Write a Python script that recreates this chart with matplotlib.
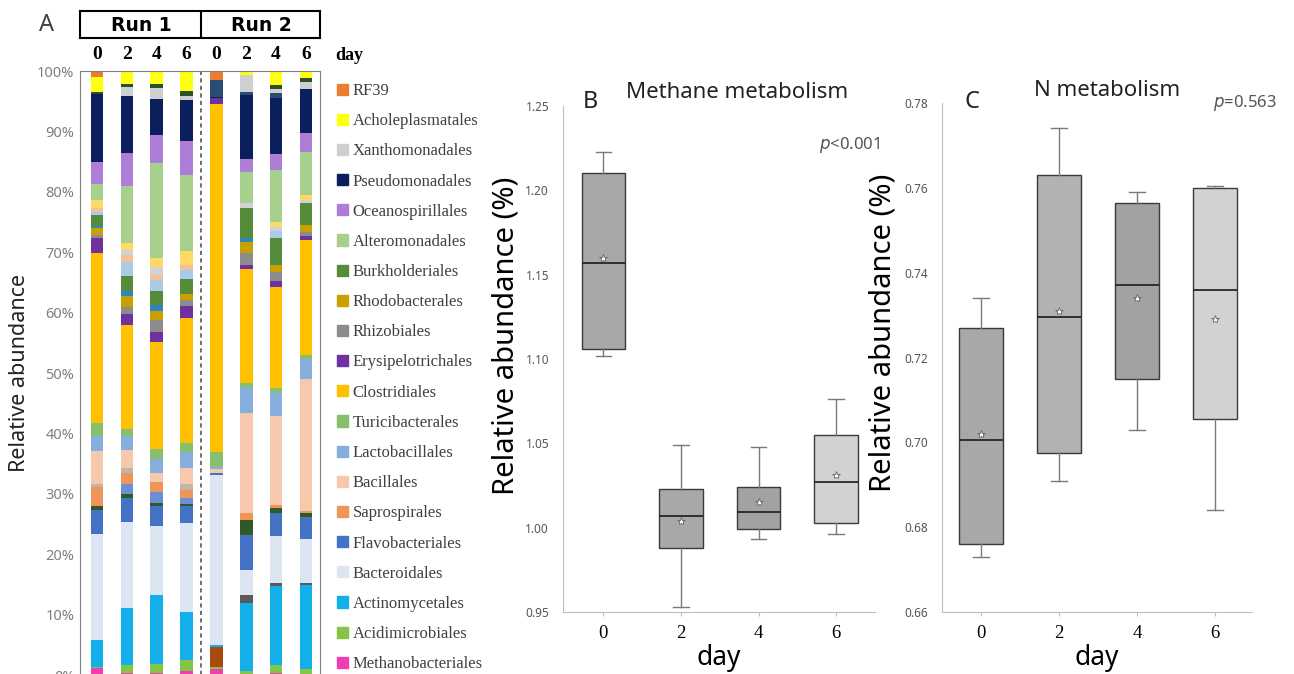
import matplotlib
matplotlib.use("Agg")
import matplotlib.pyplot as plt
from matplotlib.patches import Patch
import numpy as np

# ---- panel A: stacked composition (bottom -> top order) ----
taxa = [
    "Methanobacteriales", "Acidimicrobiales", "_brown", "Actinomycetales", "_dkgray",
    "Bacteroidales", "Flavobacteriales", "_dkgreen1", "_medblue", "Saprospirales",
    "_tan", "Bacillales", "Lactobacillales", "Turicibacterales", "Clostridiales",
    "Erysipelotrichales", "Rhizobiales", "Rhodobacterales", "_steelblue", "Burkholderiales",
    "_paleblue", "_palepeach", "_palegray", "_paleyellow", "Alteromonadales",
    "Oceanospirillales", "Pseudomonadales", "_darkteal", "Xanthomonadales", "_dkgreen2",
    "Acholeplasmatales", "RF39",
]
taxa_colors = [
    "#EE3FB0", "#84C446", "#A9490C", "#12AFEB", "#5A5A5A",
    "#DCE6F2", "#4472C4", "#2F5A27", "#6B8ED6", "#F0955A",
    "#C2B4A6", "#F6C9AC", "#86AEDF", "#86C06C", "#FFC000",
    "#7030A0", "#8C8C8C", "#C8A000", "#2E86C1", "#548C3A",
    "#A9CBE8", "#F4C09A", "#D2D2D2", "#FFD966", "#A8D08D",
    "#AE7DD8", "#0A1F5C", "#284D73", "#CFCFCF", "#2F4F2A",
    "#FFFF10", "#EC7C30",
]
run1_d0 = [1.1, 0.2, 0, 4.5, 0, 17.5, 4.0, 0.6, 0, 3.3, 0.5, 5.4, 2.5, 2.1, 28.2, 2.5, 0.4, 1.2, 0.3, 1.9,
           0.5, 0.6, 0, 1.3, 2.7, 3.6, 11.3, 0, 0, 0.3, 2.5, 1.0]
run1_d2 = [0.4, 1.2, 0, 9.5, 0, 14.2, 4.0, 0.6, 1.7, 1.8, 0.8, 3.1, 2.2, 1.2, 17.2, 1.9, 1.2, 1.7, 0.9, 2.5,
           2.3, 1.1, 0.9, 1.1, 9.5, 5.4, 9.5, 0, 1.5, 0.5, 2.1, 0]
run1_d4 = [0.3, 1.5, 0, 11.4, 0, 11.4, 3.3, 0.5, 1.9, 1.7, 0, 1.4, 2.3, 1.7, 17.8, 1.6, 1.9, 1.6, 1.0, 2.3,
           1.8, 0.8, 1.4, 1.4, 15.7, 4.7, 6.0, 0, 1.8, 0.7, 2.1, 0]
run1_d6 = [0.6, 1.9, 0, 8.0, 0, 14.6, 2.8, 0.4, 1.0, 1.4, 0.9, 2.6, 2.8, 1.4, 20.7, 2.0, 1.0, 1.0, 0, 2.4,
           1.6, 0.8, 0, 2.3, 12.5, 5.7, 6.8, 0, 0.6, 0.9, 3.2, 0.1]
run2_d0 = [1.0, 0.4, 3.3, 0.2, 0, 28.2, 0.4, 0, 0, 0, 0, 0.6, 0.4, 2.5, 57.5, 1.0, 0, 0, 0, 0,
           0, 0, 0, 0, 0, 0, 0.2, 2.8, 0, 0, 0, 1.5]
run2_d2 = [0.2, 0.5, 0, 11.2, 1.3, 4.2, 5.8, 2.5, 0, 1.1, 0, 16.5, 4.4, 0.7, 18.8, 0.7, 1.9, 1.9, 0.7, 5.0,
           0, 0, 0.8, 0, 5.1, 2.2, 10.6, 0.5, 2.8, 0, 0.6, 0]
run2_d4 = [0.3, 1.4, 0, 13.0, 0.5, 7.8, 3.8, 0.8, 0, 0.5, 0, 14.8, 3.8, 0.8, 16.7, 1.1, 1.5, 1.1, 0, 4.5,
           1.1, 0, 0.7, 0.8, 8.6, 2.6, 9.3, 0.8, 0.8, 0.5, 2.2, 0.2]
run2_d6 = [0.2, 0.8, 0, 13.9, 0.4, 7.2, 3.7, 0.6, 0, 0.4, 0, 21.8, 3.4, 0.6, 19.0, 0.6, 0.8, 1.1, 0, 3.6,
           0, 0, 0.5, 0.9, 7.1, 3.1, 7.4, 0, 1.1, 0.6, 1.2, 0]
samples = [run1_d0, run1_d2, run1_d4, run1_d6, run2_d0, run2_d2, run2_d4, run2_d6]
sample_days = ["0", "2", "4", "6", "0", "2", "4", "6"]

legend_order = [
    "RF39", "Acholeplasmatales", "Xanthomonadales", "Pseudomonadales", "Oceanospirillales",
    "Alteromonadales", "Burkholderiales", "Rhodobacterales", "Rhizobiales", "Erysipelotrichales",
    "Clostridiales", "Turicibacterales", "Lactobacillales", "Bacillales", "Saprospirales",
    "Flavobacteriales", "Bacteroidales", "Actinomycetales", "Acidimicrobiales", "Methanobacteriales",
]

# ---- panels B and C: box plot summaries ----
days = ["0", "2", "4", "6"]
methane_whislo = [1.102, 0.953, 0.993, 0.996]
methane_q1 = [1.106, 0.988, 0.9995, 1.003]
methane_med = [1.157, 1.007, 1.009, 1.027]
methane_mean = [1.160, 1.004, 1.015, 1.031]
methane_q3 = [1.210, 1.023, 1.024, 1.055]
methane_whishi = [1.223, 1.049, 1.048, 1.076]

n_whislo = [0.673, 0.691, 0.703, 0.684]
n_q1 = [0.676, 0.6975, 0.715, 0.7055]
n_med = [0.7005, 0.7295, 0.737, 0.736]
n_mean = [0.702, 0.731, 0.734, 0.729]
n_q3 = [0.727, 0.763, 0.7565, 0.760]
n_whishi = [0.734, 0.774, 0.759, 0.7605]

box_fill_b = ["#A8A8A8", "#A8A8A8", "#A2A2A2", "#D2D2D2"]
box_fill_c = ["#A8A8A8", "#B2B2B2", "#A2A2A2", "#D2D2D2"]

W, H = 1294, 674
fig = plt.figure(figsize=(W / 100, H / 100), dpi=100)
SANS = ["Noto Sans", "DejaVu Sans"]
SERIF = ["Liberation Serif", "DejaVu Serif"]


def px_axes(l, t, r, b):
    return fig.add_axes([l / W, 1 - b / H, (r - l) / W, (b - t) / H])


# ---------------- panel A ----------------
axA = px_axes(80, 71, 320, 675)
x = np.arange(len(samples))
vals = np.array(samples, dtype=float)
bottom = np.zeros(len(samples))
for i, name in enumerate(taxa):
    axA.bar(x, vals[:, i], bottom=bottom, width=0.42, color=taxa_colors[i], linewidth=0)
    bottom += vals[:, i]
axA.set_xlim(-0.57, 7.47)
axA.set_ylim(0, 100)
axA.set_yticks(np.arange(0, 101, 10))
axA.set_yticklabels([f"{v}%" for v in range(0, 101, 10)], fontsize=10.5,
                    color="#7F7F7F", family=SANS)
axA.tick_params(axis="y", length=0, pad=4)
axA.axvline(3.5, color="#555555", lw=1.2, ls=(0, (2.5, 2)))
axA.set_xticks(x)
axA.set_xticklabels(sample_days, fontsize=14, fontweight="bold", family=SERIF)
axA.xaxis.tick_top()
axA.tick_params(axis="x", length=0, pad=6)
for s in ["left", "right", "top"]:
    axA.spines[s].set_color("#808080")
axA.spines["bottom"].set_visible(False)
axA.set_ylabel("Relative abundance", fontsize=15.5, family=SANS, color="#222222", labelpad=5)

# run header
hdr = px_axes(80, 11, 320, 38)
hdr.set_xlim(-0.57, 7.47)
hdr.set_ylim(0, 1)
hdr.set_xticks([])
hdr.set_yticks([])
for s in hdr.spines.values():
    s.set_linewidth(1.5)
hdr.axvline(3.5, color="black", lw=1.5)
hdr.text(1.5, 0.45, "Run 1", ha="center", va="center", fontsize=13.5, fontweight="bold",
         family="DejaVu Sans")
hdr.text(5.5, 0.45, "Run 2", ha="center", va="center", fontsize=13.5, fontweight="bold",
         family="DejaVu Sans")

fig.text(47 / W, 1 - 25 / H, "A", fontsize=17, color="#404040", family=SANS, ha="center", va="center")
fig.text(335 / W, 1 - 55 / H, "day", fontsize=13, fontweight="bold", family=SERIF, va="center")

leg = fig.legend(
    [Patch(color=taxa_colors[taxa.index(n)]) for n in legend_order], legend_order,
    loc="upper left", bbox_to_anchor=(337 / W, 1 - 83 / H), frameon=False,
    prop={"family": SERIF, "size": 12}, handlelength=0.65, handleheight=0.65,
    handletextpad=0.3, labelspacing=0.85, borderaxespad=0, borderpad=0,
)
for t in leg.get_texts():
    t.set_color("#404040")


# ---------------- panels B, C ----------------
def draw_box(ax, whislo, q1, med, mean, q3, whishi, fills, label_x, label_y):
    stats = []
    for i in range(len(days)):
        stats.append(dict(whislo=whislo[i], q1=q1[i], med=med[i], mean=mean[i],
                          q3=q3[i], whishi=whishi[i], fliers=[], label=days[i]))
    bp = ax.bxp(stats, positions=np.arange(len(days)), widths=0.56, capwidths=0.2,
                patch_artist=True, showmeans=True, showfliers=False,
                boxprops=dict(edgecolor="#3A3A3A", linewidth=1.0),
                medianprops=dict(color="#262626", linewidth=1.3),
                whiskerprops=dict(color="#7A7A7A", linewidth=1.0),
                capprops=dict(color="#7A7A7A", linewidth=1.0),
                meanprops=dict(marker="*", markersize=6, markerfacecolor="white",
                               markeredgecolor="#666666", markeredgewidth=0.6))
    for patch, c in zip(bp["boxes"], fills):
        patch.set_facecolor(c)
    for s in ["top", "right"]:
        ax.spines[s].set_visible(False)
    for s in ["left", "bottom"]:
        ax.spines[s].set_color("#BFBFBF")
    ax.tick_params(axis="y", length=0, pad=10, labelsize=8.5, labelcolor="#555555")
    ax.tick_params(axis="x", length=3, color="#BFBFBF", pad=6)
    for lbl in ax.get_xticklabels():
        lbl.set_family(SERIF)
        lbl.set_fontsize(13.5)
    ax.set_xlabel("day", fontsize=19, family=SANS, labelpad=2)
    ax.set_ylabel("Relative abundance (%)", fontsize=21, family=SANS)
    ax.yaxis.set_label_coords(label_x, label_y)


axB = px_axes(563, 106, 875, 612)
draw_box(axB, methane_whislo, methane_q1, methane_med, methane_mean, methane_q3,
         methane_whishi, box_fill_b, -0.135, 0.545)
axB.set_xlim(-0.52, 3.5)
axB.set_ylim(0.95, 1.25)
axB.set_yticks([0.95, 1.00, 1.05, 1.10, 1.15, 1.20, 1.25])
axB.set_yticklabels([f"{v:.2f}" for v in [0.95, 1.00, 1.05, 1.10, 1.15, 1.20, 1.25]],
                    family=SANS, fontweight="bold")

axC = px_axes(942, 103, 1252, 612)
draw_box(axC, n_whislo, n_q1, n_med, n_mean, n_q3, n_whishi, box_fill_c, -0.142, 0.548)
axC.set_xlim(-0.5, 3.47)
axC.set_ylim(0.66, 0.78)
axC.set_yticks([0.66, 0.68, 0.70, 0.72, 0.74, 0.76, 0.78])
axC.set_yticklabels([f"{v:.2f}" for v in [0.66, 0.68, 0.70, 0.72, 0.74, 0.76, 0.78]],
                    family=SANS, fontweight="bold")

fig.text(737 / W, 1 - 93 / H, "Methane metabolism", fontsize=16, family=SANS, ha="center", va="center",
         color="#222222")
fig.text(590 / W, 1 - 102 / H, "B", fontsize=17, family=SANS, ha="center", va="center", color="#222222")
fig.text(880 / W, 1 - 145 / H, r"$\it{p}$<0.001", fontsize=12, family=SANS, ha="right", va="center",
         color="#555555")
fig.text(1107 / W, 1 - 90 / H, "N metabolism", fontsize=16, family=SANS, ha="center", va="center",
         color="#222222")
fig.text(972 / W, 1 - 102 / H, "C", fontsize=17, family=SANS, ha="center", va="center", color="#222222")
fig.text(1277 / W, 1 - 103 / H, r"$\it{p}$=0.563", fontsize=12, family=SANS, ha="right", va="center",
         color="#555555")

fig.savefig("out.png", dpi=100, facecolor="white")
